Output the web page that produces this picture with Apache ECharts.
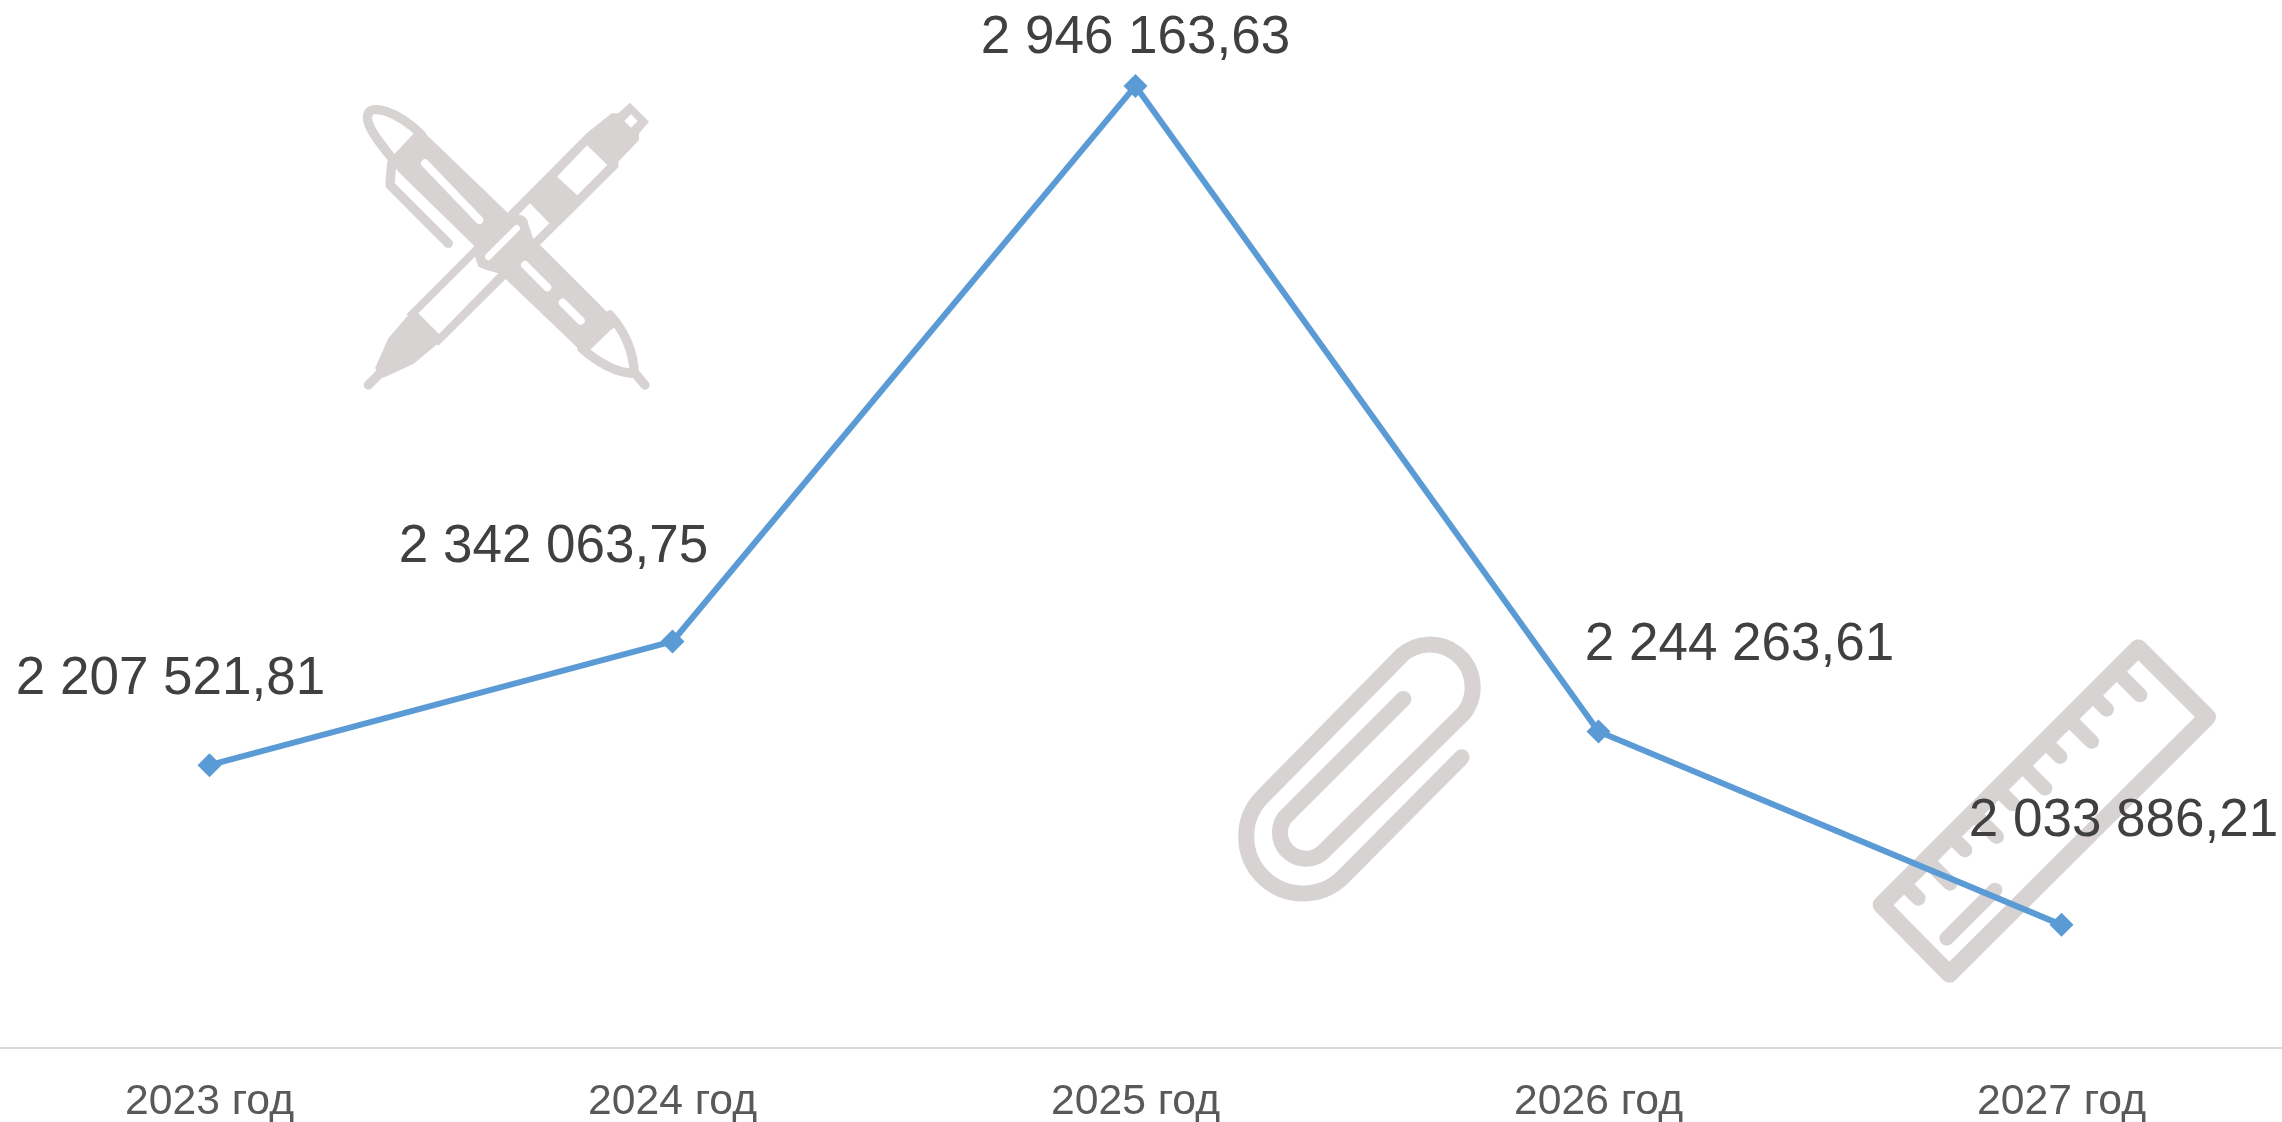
<!DOCTYPE html>
<html>
<head>
<meta charset="utf-8">
<style>
    html, body { margin: 0; padding: 0; background: #fff; }
    #chart { width: 2282px; height: 1122px; }
</style>
<script src="https://cdn.jsdelivr.net/npm/echarts@6/dist/echarts.min.js"></script>
</head>
<body>
<div id="chart"></div>
<script>
var years = ['2023 год', '2024 год', '2025 год', '2026 год', '2027 год'];
var amounts = [2207521.81, 2342063.75, 2946163.63, 2244263.61, 2033886.21];

var ICON = '#D8D3D3';
var WHITE = '#FFFFFF';

// подпись значения: 2 946 163,63
function money(v) {
    return v.toFixed(2).replace('.', ',').replace(/\B(?=(\d{3})+(?!\d))/g, ' ');
}

// в graphic нет типа path, поэтому каждый контур регистрируем как свою фигуру
var shapeCount = 0;
function pathType(d) {
    var name = 'iconShape' + (shapeCount++);
    echarts.graphic.registerShape(name, echarts.graphic.extendPath(d, {}));
    return name;
}

function fill(d, color) {
    return {type: pathType(d), silent: true, style: {fill: color || ICON}};
}

function line(d, width, color) {
    return {
        type: pathType(d),
        silent: true,
        style: {fill: 'none', stroke: color || ICON, lineWidth: width, lineCap: 'round', lineJoin: 'round'}
    };
}

// иконки нарисованы в координатах увеличенного в 3 раза фрагмента
function icon(x, y, children) {
    return {type: 'group', x: x, y: y, scaleX: 1 / 3, scaleY: 1 / 3, silent: true, z: 0, children: children};
}

// ручки
var pens = icon(340, 80, [
    fill('M740 160 L815 100 L835 100 L870 68 L927 125 L897 160 L897 180 L835 245 L835 262 L295 797 L200 703 Z'),
    fill('M205 705 L145 775 L105 865 L130 893 L220 852 L295 790 Z'),
    fill('M853 123 L873 103 L893 123 L873 143 Z', WHITE),
    fill('M651 290 L741 196 L802 255 L712 346 Z', WHITE),
    fill('M535 405 L570 370 L628 430 L580 478 L568 440 Z', WHITE),
    fill('M235 700 L405 530 L415 560 L440 570 L475 580 L297 762 Z', WHITE),
    fill('M150 240 L163 222 L222 160 L245 150 L500 395 L600 495 L820 715 L835 735 L812 750 L750 810 L725 815 L500 600 L400 495 L175 275 Z'),
    line('M160 240 C120 190 70 130 85 100 C95 75 170 90 245 165', 28),
    line('M725 805 C770 845 830 880 883 880 C880 810 850 750 810 705', 28),
    line('M155 250 L150 315 L325 490', 28),
    line('M885 880 L915 915', 28),
    line('M85 915 L118 882', 28),
    line('M255 250 L418 420', 24, WHITE),
    line('M555 555 L622 622', 24, WHITE),
    line('M668 668 L722 722', 24, WHITE),
    line('M440 525 L535 435', 62),
    line('M445 530 L530 445', 20, WHITE)
]);

// скрепка
var clip = icon(1210, 620, [
    line('M580 237 L224 593 A78 78 0 0 0 335 700 L762 279 A128 128 0 0 0 575 106 L158 530 A170 170 0 0 0 400 770 L755 412', 48)
]);

// линейка
var ruler = icon(1850, 620, [
    line('M865 84 L1072 291 L298 1062 L94 855 Z', 52),
    line('M799 154 L870 225', 44),
    line('M728 226 L770 268', 44),
    line('M657 297 L725 365', 44),
    line('M587 367 L630 410', 44),
    line('M517 437 L585 505', 44),
    line('M445 510 L488 552', 44),
    line('M372 582 L440 650', 44),
    line('M304 649 L345 690', 44),
    line('M232 722 L300 790', 44),
    line('M162 792 L205 835', 44),
    line('M290 955 L435 810', 44)
]);

var chart = echarts.init(document.getElementById('chart'));

var labelOffsets = [[-39, -86], [-119, -94], [0, -48], [141, -86], [62, -103]];

chart.setOption({
    animation: false,
    backgroundColor: '#fff',
    grid: {left: -22, top: 36.4, width: 2315, height: 1011.6, outerBoundsMode: 'none'},
    graphic: [pens, clip, ruler],
    xAxis: {
        type: 'category',
        data: years,
        axisTick: {show: false},
        axisLine: {lineStyle: {color: '#D9D9D9', width: 2}},
        axisLabel: {
            color: '#595959',
            fontFamily: 'Liberation Sans',
            fontSize: 42.67,
            margin: 33
        }
    },
    yAxis: {
        type: 'value',
        show: false,
        min: 1900000,
        max: 3000000,
        splitLine: {show: false}
    },
    series: [{
        type: 'line',
        z: 5,
        clip: false,
        symbol: 'diamond',
        symbolSize: 24,
        silent: true,
        lineStyle: {color: '#5B9BD5', width: 6, cap: 'round'},
        itemStyle: {color: '#5B9BD5'},
        data: amounts.map(function (v, i) {
            return {
                value: v,
                label: {
                    show: true,
                    position: 'inside',
                    align: 'center',
                    verticalAlign: 'middle',
                    offset: labelOffsets[i],
                    formatter: money(v),
                    color: '#404040',
                    fontFamily: 'Liberation Sans',
                    fontSize: 53
                }
            };
        })
    }]
});
</script>
</body>
</html>
